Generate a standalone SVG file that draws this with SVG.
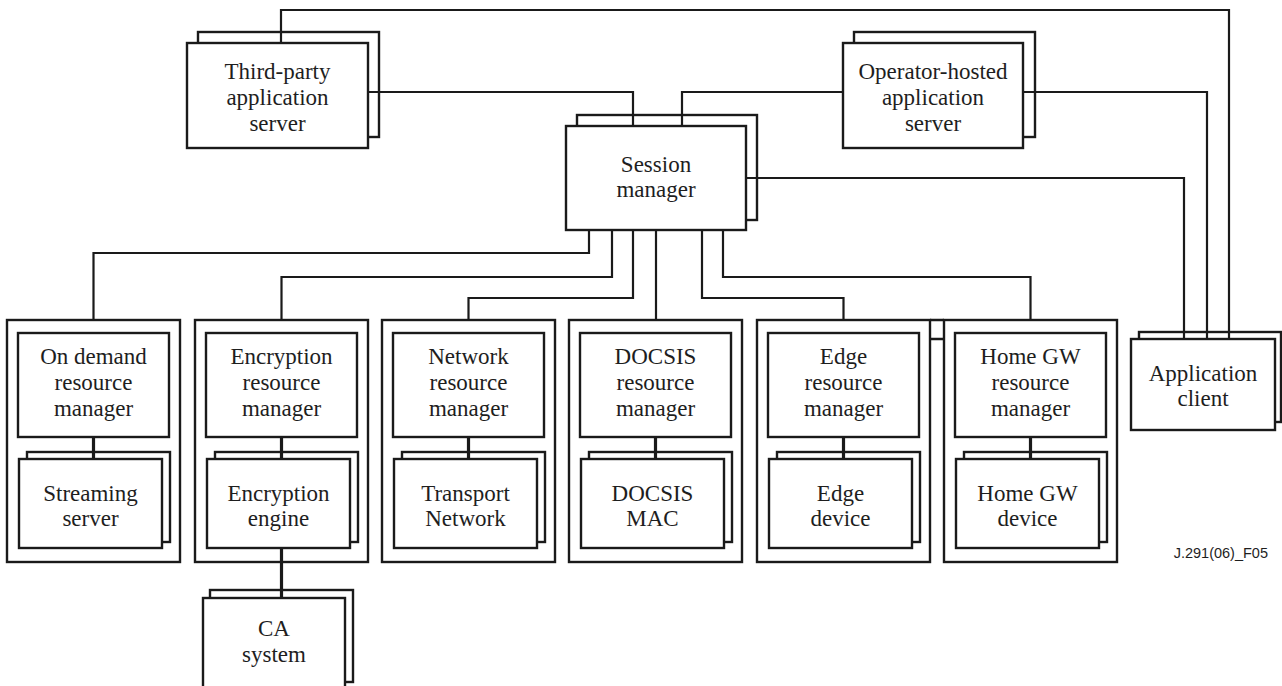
<svg xmlns="http://www.w3.org/2000/svg" width="1282" height="686" viewBox="0 0 1282 686">
  <style>
    .bg { fill: #ffffff; }
    .wire { fill: none; stroke: #1a1a1a; stroke-width: 2.2; stroke-linejoin: miter; }
    .link { fill: none; stroke: #1a1a1a; stroke-width: 3.2; }
    .back { fill: none; stroke: #1a1a1a; stroke-width: 2.4; }
    .front { fill: #ffffff; stroke: #1a1a1a; stroke-width: 2.4; }
    .frame { fill: none; stroke: #1a1a1a; stroke-width: 2.4; }
    .lbl { font-size: 23px; fill: #1e1e1e; text-anchor: middle; }
    .tag { font-size: 14.5px; fill: #1e1e1e; text-anchor: end; }
  </style>

  <rect class="bg" x="0" y="0" width="1282" height="686"/>

  <!-- connectors -->
  <g id="connectors">
    <path class="wire" d="M281,43 V10 H1229 V339"/>
    <path class="wire" d="M368,92 H633 V126"/>
    <path class="wire" d="M843,92 H682 V126"/>
    <path class="wire" d="M1023,92 H1207 V339"/>
    <path class="wire" d="M746,178 H1184 V339"/>
    <path class="wire" d="M589,230 V253 H93.5 V320"/>
    <path class="wire" d="M612,230 V277 H281.5 V320"/>
    <path class="wire" d="M633,230 V298 H468.5 V320"/>
    <path class="wire" d="M656,230 V320"/>
    <path class="wire" d="M702,230 V298 H843.5 V320"/>
    <path class="wire" d="M723,230 V277 H1030.5 V320"/>
    <!-- manager to controlled device -->
    <path class="link" d="M93.5,437 V459"/>
    <path class="link" d="M281.5,437 V459"/>
    <path class="link" d="M468.5,437 V459"/>
    <path class="link" d="M655.5,437 V459"/>
    <path class="link" d="M843.5,437 V459"/>
    <path class="link" d="M1030.5,437 V459"/>
    <path class="link" d="M281.5,548 V598"/>
  </g>

  <g font-family="Liberation Serif, DejaVu Serif, serif">
  <!-- application servers -->
  <g id="third-party-server">
    <rect class="back" x="198" y="32" width="181" height="105"/>
    <rect class="front" x="187" y="43" width="181" height="105"/>
    <text class="lbl" x="277.5" y="79">Third-party</text>
    <text class="lbl" x="277.5" y="105">application</text>
    <text class="lbl" x="277.5" y="131">server</text>
  </g>

  <g id="operator-hosted-server">
    <rect class="back" x="854" y="32" width="181" height="105"/>
    <rect class="front" x="843" y="43" width="180" height="105"/>
    <text class="lbl" x="933" y="79">Operator-hosted</text>
    <text class="lbl" x="933" y="105">application</text>
    <text class="lbl" x="933" y="131">server</text>
  </g>

  <g id="session-manager">
    <rect class="back" x="577" y="115" width="180" height="105"/>
    <rect class="front" x="566" y="126" width="180" height="104"/>
    <text class="lbl" x="656" y="172">Session</text>
    <text class="lbl" x="656" y="197">manager</text>
  </g>

  <g id="application-client">
    <rect class="back" x="1139" y="332" width="142" height="90"/>
    <rect class="front" x="1131" y="339" width="144" height="91"/>
    <text class="lbl" x="1203" y="381">Application</text>
    <text class="lbl" x="1203" y="406">client</text>
  </g>

  <!-- resource manager groups -->
  <g id="on-demand-group">
    <rect class="frame" x="7" y="320" width="173" height="242"/>
    <rect class="front" x="18" y="333" width="151" height="104"/>
    <text class="lbl" x="93.5" y="364">On demand</text>
    <text class="lbl" x="93.5" y="390">resource</text>
    <text class="lbl" x="93.5" y="416">manager</text>
    <rect class="back" x="27" y="452" width="143" height="90"/>
    <rect class="front" x="19" y="459" width="143" height="89"/>
    <text class="lbl" x="90.5" y="501">Streaming</text>
    <text class="lbl" x="90.5" y="526">server</text>
  </g>

  <g id="encryption-group">
    <rect class="frame" x="195" y="320" width="173" height="242"/>
    <rect class="front" x="206" y="333" width="151" height="104"/>
    <text class="lbl" x="281.5" y="364">Encryption</text>
    <text class="lbl" x="281.5" y="390">resource</text>
    <text class="lbl" x="281.5" y="416">manager</text>
    <rect class="back" x="215" y="452" width="143" height="90"/>
    <rect class="front" x="207" y="459" width="143" height="89"/>
    <text class="lbl" x="278.5" y="501">Encryption</text>
    <text class="lbl" x="278.5" y="526">engine</text>
  </g>

  <g id="network-group">
    <rect class="frame" x="382" y="320" width="173" height="242"/>
    <rect class="front" x="393" y="333" width="151" height="104"/>
    <text class="lbl" x="468.5" y="364">Network</text>
    <text class="lbl" x="468.5" y="390">resource</text>
    <text class="lbl" x="468.5" y="416">manager</text>
    <rect class="back" x="402" y="452" width="143" height="90"/>
    <rect class="front" x="394" y="459" width="143" height="89"/>
    <text class="lbl" x="465.5" y="501">Transport</text>
    <text class="lbl" x="465.5" y="526">Network</text>
  </g>

  <g id="docsis-group">
    <rect class="frame" x="569" y="320" width="173" height="242"/>
    <rect class="front" x="580" y="333" width="151" height="104"/>
    <text class="lbl" x="655.5" y="364">DOCSIS</text>
    <text class="lbl" x="655.5" y="390">resource</text>
    <text class="lbl" x="655.5" y="416">manager</text>
    <rect class="back" x="589" y="452" width="143" height="90"/>
    <rect class="front" x="581" y="459" width="143" height="89"/>
    <text class="lbl" x="652.5" y="501">DOCSIS</text>
    <text class="lbl" x="652.5" y="526">MAC</text>
  </g>

  <g id="edge-group">
    <rect class="frame" x="757" y="320" width="173" height="242"/>
    <rect class="front" x="768" y="333" width="151" height="104"/>
    <text class="lbl" x="843.5" y="364">Edge</text>
    <text class="lbl" x="843.5" y="390">resource</text>
    <text class="lbl" x="843.5" y="416">manager</text>
    <rect class="back" x="777" y="452" width="143" height="90"/>
    <rect class="front" x="769" y="459" width="143" height="89"/>
    <text class="lbl" x="840.5" y="501">Edge</text>
    <text class="lbl" x="840.5" y="526">device</text>
  </g>

  <!-- small bridge between the edge and home gateway frames -->
  <path class="frame" d="M930,320 H944 M930,339 H944"/>

  <g id="home-gw-group">
    <rect class="frame" x="944" y="320" width="173" height="242"/>
    <rect class="front" x="955" y="333" width="151" height="104"/>
    <text class="lbl" x="1030.5" y="364">Home GW</text>
    <text class="lbl" x="1030.5" y="390">resource</text>
    <text class="lbl" x="1030.5" y="416">manager</text>
    <rect class="back" x="964" y="452" width="143" height="90"/>
    <rect class="front" x="956" y="459" width="143" height="89"/>
    <text class="lbl" x="1027.5" y="501">Home GW</text>
    <text class="lbl" x="1027.5" y="526">device</text>
  </g>

  <g id="ca-system">
    <rect class="back" x="210" y="590" width="143" height="92"/>
    <rect class="front" x="203" y="598" width="142" height="100"/>
    <text class="lbl" x="274" y="636">CA</text>
    <text class="lbl" x="274" y="662">system</text>
  </g>
  </g>

  <text class="tag" x="1268" y="558" font-family="Liberation Sans, Arial, sans-serif">J.291(06)_F05</text>
</svg>
